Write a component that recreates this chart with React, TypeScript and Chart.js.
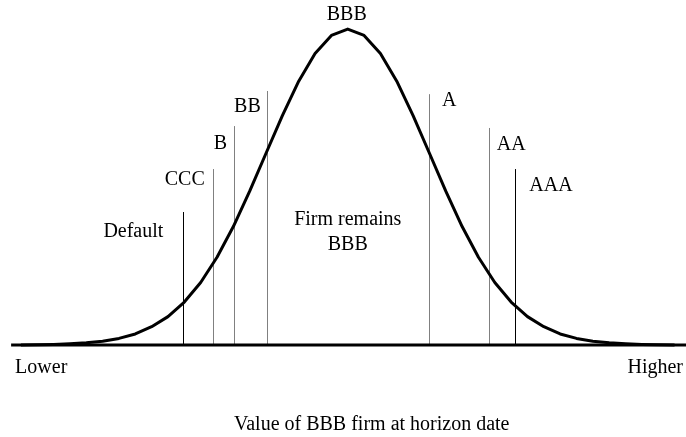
import React, { useEffect, useRef } from "react";
import { Chart, registerables } from "chart.js";

Chart.register(...registerables);

// Firm value in standard deviations from the expected value
const curveZ = [
  -4.0, -3.8, -3.6, -3.4, -3.2, -3.0, -2.8, -2.6, -2.4, -2.2, -2.0,
  -1.8, -1.6, -1.4, -1.2, -1.0, -0.8, -0.6, -0.4, -0.2, 0.0,
  0.2, 0.4, 0.6, 0.8, 1.0, 1.2, 1.4, 1.6, 1.8, 2.0,
  2.2, 2.4, 2.6, 2.8, 3.0, 3.2, 3.4, 3.6, 3.8, 4.0,
];
// Relative density (peak = 1)
const curveDensity = [
  0.0005, 0.001, 0.002, 0.004, 0.007, 0.012, 0.021, 0.035, 0.058, 0.09, 0.136,
  0.198, 0.278, 0.375, 0.487, 0.607, 0.726, 0.835, 0.923, 0.98, 1.0,
  0.98, 0.923, 0.835, 0.726, 0.607, 0.487, 0.375, 0.278, 0.198, 0.136,
  0.09, 0.058, 0.035, 0.021, 0.012, 0.007, 0.004, 0.002, 0.001, 0.0005,
];
const axisZ = [-4.12, 4.14];

const ratingLabels = ["Default", "CCC", "B", "BB", "A", "AA", "AAA"];
const thresholdZ = [-2.012, -1.652, -1.392, -0.991, 0.995, 1.726, 2.051];
const thresholdTop = [0.421, 0.557, 0.693, 0.804, 0.794, 0.687, 0.557];

const peakLabel = "BBB";
const middleLabel = ["Firm remains", "BBB"];
const axisEndLabels = ["Lower", "Higher"];
const xTitle = "Value of BBB firm at horizon date";

// styling / layout
const FONT = '20px "Liberation Serif", "Times New Roman", serif';
const lineColors = ["#000", "#808080", "#808080", "#808080", "#808080", "#808080", "#000"];
const labelDx = [-20, -8, -7, -6, 13, 8, 14];
const labelDy = [20, 11, 18, 16, 7, 17, 17];

const overlayPlugin = {
  id: "creditOverlay",
  beforeDatasetsDraw(chart: any) {
    const { ctx, scales } = chart;
    const xs = scales.x;
    const ys = scales.y;
    ctx.save();
    ctx.lineWidth = 1;
    thresholdZ.forEach((z, i) => {
      const px = Math.round(xs.getPixelForValue(z)) + 0.5;
      const top = ys.getPixelForValue(thresholdTop[i]);
      const bottom = ys.getPixelForValue(0);
      ctx.strokeStyle = lineColors[i];
      ctx.beginPath();
      ctx.moveTo(px, top);
      ctx.lineTo(px, bottom);
      ctx.stroke();
    });
    ctx.restore();
  },
  afterDraw(chart: any) {
    const { ctx, scales } = chart;
    const xs = scales.x;
    const ys = scales.y;
    ctx.save();
    ctx.font = FONT;
    ctx.fillStyle = "#000";
    ctx.textBaseline = "middle";
    thresholdZ.forEach((z, i) => {
      const px = xs.getPixelForValue(z);
      const top = ys.getPixelForValue(thresholdTop[i]);
      ctx.textAlign = labelDx[i] < 0 ? "right" : "left";
      ctx.fillText(ratingLabels[i], px + labelDx[i], top + labelDy[i]);
    });
    // peak label
    const peakY = ys.getPixelForValue(1);
    const cx = xs.getPixelForValue(0);
    ctx.textAlign = "center";
    ctx.fillText(peakLabel, cx - 1, peakY - 14);
    // middle label
    const base = ys.getPixelForValue(0);
    ctx.fillText(middleLabel[0], cx, base - 125);
    ctx.fillText(middleLabel[1], cx, base - 100);
    // axis end labels
    ctx.textAlign = "left";
    ctx.fillText(axisEndLabels[0], xs.getPixelForValue(axisZ[0]) + 4, base + 23);
    ctx.textAlign = "right";
    ctx.fillText(axisEndLabels[1], xs.getPixelForValue(axisZ[1]) - 3, base + 23);
    // title
    ctx.textAlign = "center";
    ctx.fillText(xTitle, cx + 24, base + 80);
    ctx.restore();
  },
};

export default function App() {
  const canvasRef = useRef<HTMLCanvasElement | null>(null);

  useEffect(() => {
    const canvas = canvasRef.current;
    if (!canvas) return;
    const chart = new Chart(canvas, {
      type: "line",
      data: {
        datasets: [
          {
            label: "axis",
            data: axisZ.map((z) => ({ x: z, y: 0 })),
            borderColor: "#000",
            borderWidth: 3,
            pointRadius: 0,
            tension: 0,
            fill: false,
          },
          {
            label: "density",
            data: curveZ.map((z, i) => ({ x: z, y: curveDensity[i] })),
            borderColor: "#000",
            borderWidth: 3,
            pointRadius: 0,
            tension: 0,
            fill: false,
            borderJoinStyle: "round",
          },
        ],
      },
      options: {
        animation: false,
        responsive: false,
        maintainAspectRatio: false,
        devicePixelRatio: 1,
        layout: { padding: 0 },
        scales: {
          x: { type: "linear", min: -4.256, max: 4.14, display: false },
          y: { type: "linear", min: -0.291, max: 1.092, display: false },
        },
        plugins: {
          legend: { display: false },
          tooltip: { enabled: false },
        },
        events: [],
      },
      plugins: [overlayPlugin],
    });
    return () => chart.destroy();
  }, []);

  return (
    <div style={{ position: "fixed", left: 0, top: 0, width: 686, height: 437, background: "#fff" }}>
      <canvas ref={canvasRef} width={686} height={437} style={{ display: "block", width: 686, height: 437 }} />
    </div>
  );
}
